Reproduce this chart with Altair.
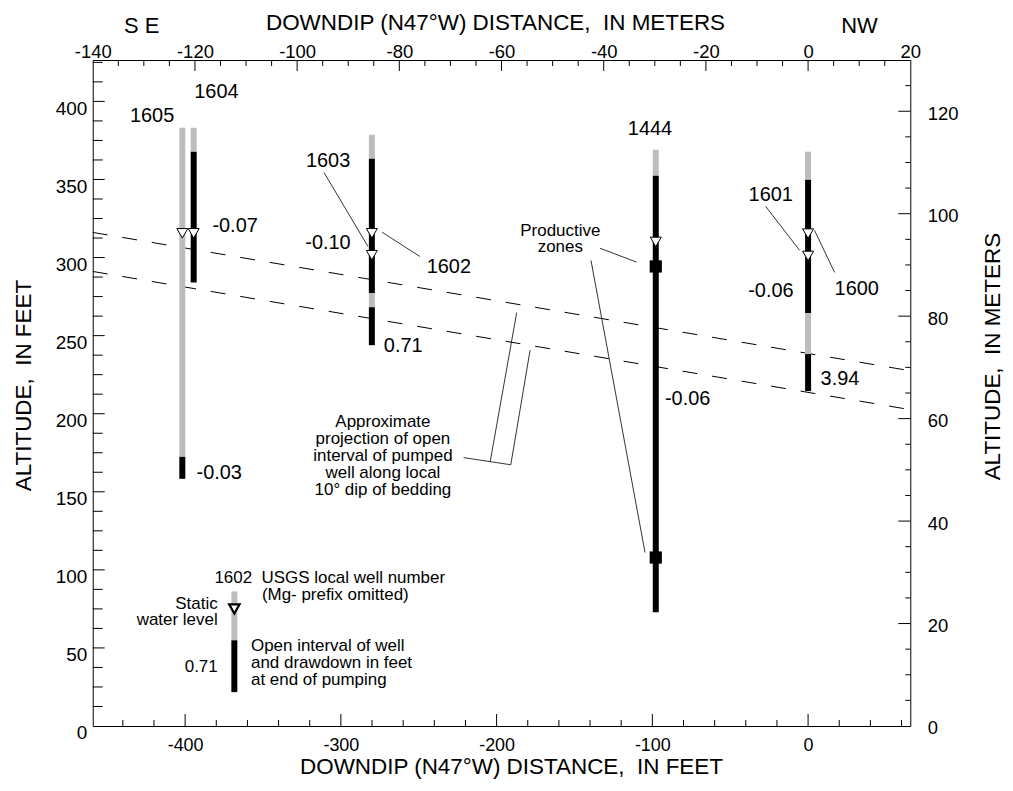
import altair as alt
import pandas as pd

FONT = "Liberation Sans, Arial, Helvetica, sans-serif"
W, H = 820, 668

# ---------------- scale domains (feet bottom/left, metres top/right) ----------------
X_FT = [-459.318, 65.617]   # -140 m .. 20 m
Y_FT = [0, 426.509]         # 0 .. 130 m
X_M = [-140, 20]
Y_M = [0, 130]

x_ft_labels = [-400, -300, -200, -100, 0]
y_ft_labels = [0, 50, 100, 150, 200, 250, 300, 350, 400]
x_m_labels = [-140, -120, -100, -80, -60, -40, -20, 0, 20]
y_m_labels = [0, 20, 40, 60, 80, 100, 120]

x_ft_minor = [-440, -420, -380, -360, -340, -320, -280, -260, -240, -220, -180, -160,
              -140, -120, -80, -60, -40, -20, 20, 40, 60]
y_ft_major = [50, 100, 150, 200, 250, 300, 350, 400]
y_ft_minor = [12.5, 25, 37.5, 62.5, 75, 87.5, 112.5, 125, 137.5, 162.5, 175, 187.5,
              212.5, 225, 237.5, 262.5, 275, 287.5, 312.5, 325, 337.5, 362.5, 375, 387.5,
              412.5, 425]
x_m_major = [-120, -100, -80, -60, -40, -20, 0]
x_m_minor = [-135, -130, -125, -115, -110, -105, -95, -90, -85, -75, -70, -65, -55, -50,
             -45, -35, -30, -25, -15, -10, -5, 5, 10, 15]
y_m_major = [20, 40, 60, 80, 100, 120]
y_m_minor = [5, 10, 15, 25, 30, 35, 45, 50, 55, 65, 70, 75, 85, 90, 95, 105, 110, 115, 125]

# ---------------- well intervals (feet) ----------------
iv_x = [-401.8, -401.8, -394.5, -394.5, -280.1, -280.1, -280.1, -280.1,
        -97.8, -97.8, 0.0, 0.0, 0.0, 0.0, -368.4, -368.4]
iv_top = [383.1, 172.4, 383.1, 367.8, 378.6, 363.3, 277.1, 268.2,
          369.0, 352.4, 367.8, 349.9, 264.3, 238.2, 86.2, 54.9]
iv_bot = [172.4, 158.3, 367.8, 284.1, 363.3, 277.1, 268.2, 243.9,
          352.4, 72.8, 349.9, 264.3, 238.2, 214.5, 54.9, 21.7]
iv_kind = ["cased", "open", "cased", "open", "cased", "open", "cased", "open",
           "cased", "open", "cased", "open", "cased", "open", "cased", "open"]

# static water levels
wl_well = ["1605", "1604", "1602", "1603", "1444", "1600", "1601"]
wl_x = [-401.8, -394.5, -280.1, -280.1, -97.8, 0.0, 0.0]
wl_y = [318.6, 318.6, 318.6, 304.6, 313.1, 318.4, 304.1]
legend_wl_x = [-368.4]
legend_wl_y = [78.5]

# productive zones in well 1444
pz_x = [-97.8, -97.8]
pz_y = [294.3, 107.9]

# projection of pumped-well open interval along 10 degree dip
dip_line = ["upper", "upper", "lower", "lower"]
dip_x = [-459.3, 65.6, -459.3, 65.6]
dip_y = [316.1, 227.5, 291.1, 202.6]

# leader lines and bracket
ld_x = [-310.8, -273.5, -27.2, 17.0, -133.7, -139.4, -221.2, -190.9, -204.1]
ld_y = [354.4, 316.2, 332.7, 290.5, 306.0, 298.2, 171.9, 167.3, 169.4]
ld_x2 = [-282.6, -249.3, -5.4, 4.2, -110.2, -104.7, -190.9, -178.5, -187.1]
ld_y2 = [307.1, 300.7, 304.6, 317.3, 297.1, 111.1, 167.3, 240.7, 264.8]

# labels
num_c_text = ["1605", "1604", "1603", "1444", "1601"]
num_c_x = [-421.2, -379.9, -308.2, -101.5, -24.0]
num_c_y = [386.6, 402.4, 357.7, 378.6, 336.5]

num_l_text = ["-0.07", "1602", "0.71", "-0.06", "-0.03", "1600", "3.94"]
num_l_x = [-382.5, -244.9, -272.4, -91.9, -392.7, 17.0, 8.0]
num_l_y = [316.2, 289.9, 239.6, 205.6, 158.3, 275.8, 218.4]

num_r_text = ["-0.10", "-0.06"]
num_r_x = [-293.7, -9.3]
num_r_y = [305.6, 274.6]

note_c_text = ["Productive\nzones",
               "Approximate\nprojection of open\ninterval of pumped\nwell along local\n10\u00b0 dip of bedding"]
note_c_x = [-159.1, -273.0]
note_c_y = [314.1, 191.5]

leg_l_text = ["1602\u00a0\u00a0USGS local well number", "(Mg- prefix omitted)",
              "Open interval of well\nand drawdown in feet\nat end of pumping"]
leg_l_x = [-381.2, -350.7, -357.7]
leg_l_y = [91.3, 80.4, 47.9]

leg_r_text = ["Static\nwater level", "0.71"]
leg_r_x = [-379.1, -379.1]
leg_r_y = [74.7, 34.5]

compass_text = ["S E", "NW"]
compass_x = [-427.9, 33.0]
compass_y = [443.5, 443.5]

# ---------------- helpers ----------------
xs_ft = alt.Scale(domain=X_FT, nice=False, zero=False)
ys_ft = alt.Scale(domain=Y_FT, nice=False, zero=False)
xs_m = alt.Scale(domain=X_M, nice=False, zero=False)
ys_m = alt.Scale(domain=Y_M, nice=False, zero=False)


def XF(f, axis=None):
    return alt.X(f"{f}:Q", scale=xs_ft, axis=axis)


def YF(f, axis=None):
    return alt.Y(f"{f}:Q", scale=ys_ft, axis=axis)


ax_style = dict(
    labelFont=FONT, labelColor="black",
    domain=True, domainColor="black", domainWidth=1, tickSize=0, grid=False,
    labelFlush=False, labelOverlap=False, labelBaseline="middle",
    labelExpr="'' + datum.value",
    titleFont=FONT, titleFontSize=22.5, titleFontWeight="normal", titleColor="black",
    titleAlign="center", titleBaseline="alphabetic",
)

bottom_axis = alt.Axis(orient="bottom", values=x_ft_labels, labelPadding=20, labelFontSize=18,
                       title="DOWNDIP (N47\u00b0W) DISTANCE,\u00a0\u00a0IN FEET",
                       titleX=419.5, titleY=48, **ax_style)
left_axis = alt.Axis(orient="left", values=y_ft_labels, labelPadding=6, labelOffset=7,
                     labelFontSize=19,
                     title="ALTITUDE,\u00a0\u00a0IN FEET", titleAngle=270,
                     titleX=-62, titleY=326, **ax_style)
top_axis = alt.Axis(orient="top", values=x_m_labels, labelPadding=9, labelFontSize=18.5,
                    title="DOWNDIP (N47\u00b0W) DISTANCE,\u00a0\u00a0IN METERS",
                    titleX=403.5, titleY=-30.7, **ax_style)
right_axis = alt.Axis(orient="right", values=y_m_labels, labelPadding=17, labelOffset=2,
                      labelFontSize=18.5,
                      title="ALTITUDE,\u00a0\u00a0IN METERS", titleAngle=270,
                      titleX=89, titleY=297, **ax_style)

# ---------------- data layers (feet) ----------------
dashed = alt.Chart(pd.DataFrame({"line": dip_line, "x": dip_x, "y": dip_y})).mark_line(
    color="black", strokeWidth=1, strokeDash=[15, 15]
).encode(x=XF("x"), y=YF("y"), detail="line:N")

bars = alt.Chart(pd.DataFrame({"x": iv_x, "top": iv_top, "bot": iv_bot, "kind": iv_kind})).mark_rule(
    strokeWidth=6, strokeCap="butt"
).encode(
    x=XF("x"), y=YF("top"), y2="bot:Q",
    color=alt.Color("kind:N", scale=alt.Scale(domain=["cased", "open"], range=["#bdbdbd", "#000000"]),
                    legend=None),
)

leaders = alt.Chart(pd.DataFrame({"x": ld_x, "y": ld_y, "x2": ld_x2, "y2": ld_y2})).mark_rule(
    color="black", strokeWidth=0.8
).encode(x=XF("x"), y=YF("y"), x2="x2:Q", y2="y2:Q")

squares = alt.Chart(pd.DataFrame({"x": pz_x, "y": pz_y})).mark_square(
    size=150, color="black", opacity=1
).encode(x=XF("x"), y=YF("y"))

tris = alt.Chart(pd.DataFrame({"well": wl_well, "x": wl_x, "y": wl_y})).mark_point(
    shape="triangle-down", size=121, filled=True, fill="white", stroke="black",
    strokeWidth=1, opacity=1, yOffset=4.8
).encode(x=XF("x"), y=YF("y"))

leg_tri = alt.Chart(pd.DataFrame({"x": legend_wl_x, "y": legend_wl_y})).mark_point(
    shape="triangle-down", size=110, filled=True, fill="white", stroke="black",
    strokeWidth=2.2, opacity=1, yOffset=5.5
).encode(x=XF("x"), y=YF("y"))


def texts(t, x, y, size, align, lh=17):
    return alt.Chart(pd.DataFrame({"t": t, "x": x, "y": y})).mark_text(
        font=FONT, fontSize=size, color="black", align=align, baseline="alphabetic",
        lineBreak="\n", lineHeight=lh
    ).encode(x=XF("x"), y=YF("y"), text="t:N")


t1 = texts(num_c_text, num_c_x, num_c_y, 20, "center")
t2 = texts(num_l_text, num_l_x, num_l_y, 20, "left")
t3 = texts(num_r_text, num_r_x, num_r_y, 20, "right")
t4 = texts(note_c_text, note_c_x, note_c_y, 17, "center")
t5 = texts(leg_l_text, leg_l_x, leg_l_y, 17, "left")
t6 = texts(leg_r_text, leg_r_x, leg_r_y, 17, "right", lh=16)
t7 = texts(compass_text, compass_x, compass_y, 22, "center")

# inward ticks; the major-tick layers carry the four axes
bot_major = alt.Chart(pd.DataFrame({"x": x_ft_labels})).mark_rule(color="black", strokeWidth=1).encode(
    x=XF("x", bottom_axis), y=alt.value(H), y2=alt.value(H - 12))
bot_minor = alt.Chart(pd.DataFrame({"x": x_ft_minor})).mark_rule(color="black", strokeWidth=1).encode(
    x=XF("x"), y=alt.value(H), y2=alt.value(H - 6))
left_major = alt.Chart(pd.DataFrame({"y": y_ft_major})).mark_rule(color="black", strokeWidth=1).encode(
    y=YF("y", left_axis), x=alt.value(0), x2=alt.value(12))
left_minor = alt.Chart(pd.DataFrame({"y": y_ft_minor})).mark_rule(color="black", strokeWidth=1).encode(
    y=YF("y"), x=alt.value(0), x2=alt.value(10))

top_major = alt.Chart(pd.DataFrame({"x": x_m_major})).mark_rule(color="black", strokeWidth=1).encode(
    x=alt.X("x:Q", scale=xs_m, axis=top_axis), y=alt.value(0), y2=alt.value(11))
top_minor = alt.Chart(pd.DataFrame({"x": x_m_minor})).mark_rule(color="black", strokeWidth=1).encode(
    x=alt.X("x:Q", scale=xs_m, axis=None), y=alt.value(0), y2=alt.value(6))
right_major = alt.Chart(pd.DataFrame({"y": y_m_major})).mark_rule(color="black", strokeWidth=1).encode(
    y=alt.Y("y:Q", scale=ys_m, axis=right_axis), x=alt.value(W), x2=alt.value(W - 12))
right_minor = alt.Chart(pd.DataFrame({"y": y_m_minor})).mark_rule(color="black", strokeWidth=1).encode(
    y=alt.Y("y:Q", scale=ys_m, axis=None), x=alt.value(W), x2=alt.value(W - 5))

chart = alt.layer(
    dashed, bars, leaders, squares, tris, leg_tri, t1, t2, t3, t4, t5, t6, t7,
    bot_major, bot_minor, left_major, left_minor,
    top_major, top_minor, right_major, right_minor,
).resolve_scale(x="independent", y="independent").properties(
    width=W, height=H,
    autosize=alt.AutoSizeParams(type="none"),
    padding={"left": 85, "top": 51, "right": 95, "bottom": 56},
    background="white",
).configure_view(stroke=None)

chart.save("out.html", embed_options={"renderer": "svg", "actions": False})
